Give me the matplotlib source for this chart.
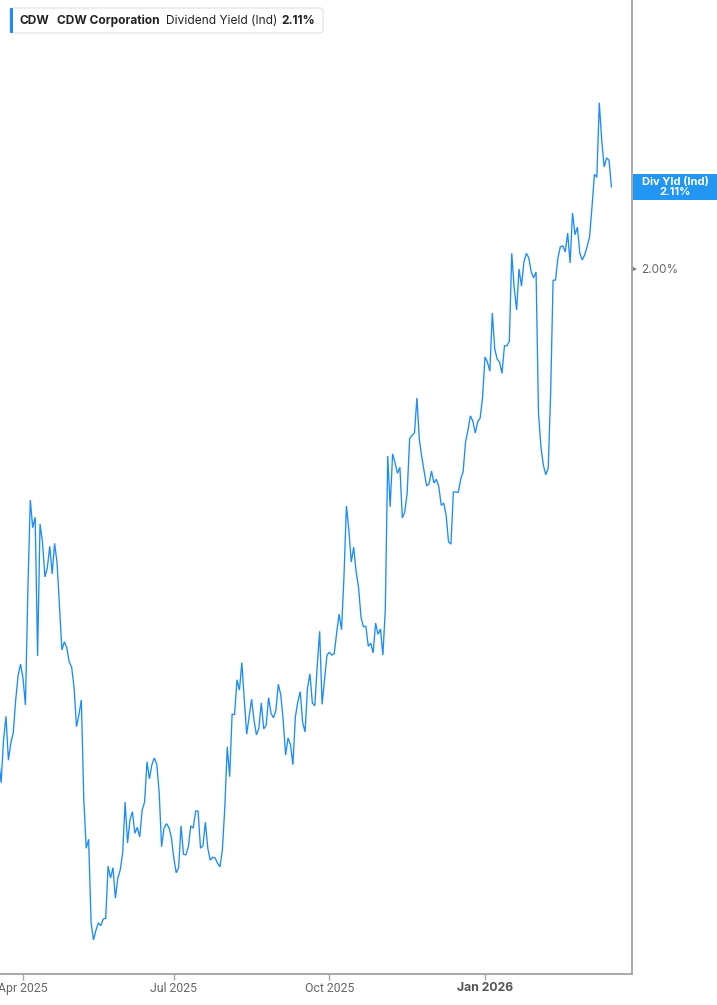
import numpy as np
import pandas as pd
import matplotlib
matplotlib.use("Agg")
import matplotlib.pyplot as plt
from matplotlib.patches import Rectangle, FancyBboxPatch
from matplotlib import font_manager as fm
import matplotlib.transforms as mtrans

# ---------------- data ----------------
holidays = ["2025-04-18", "2025-05-26", "2025-06-19", "2025-07-04", "2025-09-01",
            "2025-11-27", "2025-12-25", "2026-01-01", "2026-01-19", "2026-02-16"]
dates = pd.bdate_range("2025-03-18", "2026-03-19", freq="C", holidays=holidays)

div_yield = [
    1.341, 1.311, 1.368, 1.400, 1.341, 1.364, 1.378, 1.422, 1.455, 1.470,
    1.451, 1.415, 1.569, 1.690, 1.653, 1.667, 1.481, 1.658, 1.634, 1.587,
    1.599, 1.628, 1.591, 1.632, 1.606, 1.547, 1.489, 1.500, 1.492, 1.473,
    1.466, 1.439, 1.386, 1.402, 1.422, 1.288, 1.223, 1.235, 1.123, 1.100,
    1.113, 1.123, 1.119, 1.128, 1.129, 1.199, 1.183, 1.197, 1.156, 1.183,
    1.194, 1.217, 1.285, 1.230, 1.261, 1.272, 1.243, 1.251, 1.238, 1.274,
    1.285, 1.339, 1.316, 1.335, 1.344, 1.336, 1.298, 1.225, 1.250, 1.256,
    1.251, 1.238, 1.210, 1.190, 1.197, 1.253, 1.215, 1.214, 1.225, 1.253,
    1.250, 1.273, 1.273, 1.223, 1.226, 1.258, 1.223, 1.207, 1.211, 1.210,
    1.203, 1.198, 1.221, 1.278, 1.359, 1.319, 1.403, 1.402, 1.449, 1.435,
    1.472, 1.422, 1.376, 1.399, 1.423, 1.395, 1.375, 1.384, 1.418, 1.383,
    1.388, 1.425, 1.404, 1.398, 1.408, 1.443, 1.429, 1.395, 1.348, 1.371,
    1.362, 1.335, 1.399, 1.419, 1.433, 1.392, 1.379, 1.438, 1.457, 1.418,
    1.414, 1.467, 1.514, 1.416, 1.449, 1.482, 1.486, 1.482, 1.484, 1.512,
    1.537, 1.516, 1.587, 1.682, 1.650, 1.607, 1.627, 1.594, 1.573, 1.533,
    1.520, 1.521, 1.494, 1.498, 1.485, 1.525, 1.510, 1.517, 1.482, 1.543,
    1.749, 1.681, 1.752, 1.740, 1.726, 1.734, 1.666, 1.674, 1.700, 1.772,
    1.777, 1.780, 1.827, 1.771, 1.748, 1.728, 1.709, 1.712, 1.729, 1.713,
    1.718, 1.708, 1.683, 1.686, 1.670, 1.634, 1.631, 1.701, 1.701, 1.700,
    1.718, 1.728, 1.768, 1.784, 1.803, 1.796, 1.780, 1.795, 1.800, 1.828,
    1.882, 1.875, 1.863, 1.941, 1.893, 1.879, 1.875, 1.860, 1.897, 1.897,
    1.903, 2.021, 1.975, 1.945, 2.000, 1.977, 2.009, 2.021, 2.015, 1.996,
    1.988, 1.996, 1.807, 1.761, 1.737, 1.724, 1.733, 1.834, 1.985, 1.985,
    2.015, 2.030, 2.031, 2.023, 2.048, 2.008, 2.075, 2.046, 2.056, 2.021,
    2.012, 2.019, 2.030, 2.043, 2.083, 2.127, 2.123, 2.223, 2.173, 2.137,
    2.149, 2.146, 2.110,
]

tick_months = [(2025, 4), (2025, 7), (2025, 10), (2026, 1)]
tick_labels = ["Apr 2025", "Jul 2025", "Oct 2025", "Jan 2026"]
ytick_values = [2.00]
ytick_labels = ["2.00%"]
last_label = "Div Yld (Ind)\n2.11%"
legend_parts = [("CDW", "bold"), ("CDW Corporation", "bold"),
                ("Dividend Yield (Ind)", "normal"), ("2.11%", "bold")]

# ---------------- fonts ----------------
def has_font(name):
    try:
        fm.findfont(fm.FontProperties(family=name), fallback_to_default=False)
        return True
    except Exception:
        return False

UI = "Inter" if has_font("Inter") else "DejaVu Sans"
AX = "Liberation Sans Narrow" if has_font("Liberation Sans Narrow") else ("Roboto" if has_font("Roboto") else UI)

BLUE = "#1a8cff"
GREY = "#a8a8a8"

n = min(len(dates), len(div_yield))
x = np.arange(n)
y = np.array(div_yield[:n])

W, H = 717, 1005
fig = plt.figure(figsize=(W / 100, H / 100), dpi=100)
ax = fig.add_axes([0, 31 / H, 631.7 / W, 1 - 31 / H])

ax.plot(x, y, color=BLUE, lw=0.95, solid_joinstyle="miter")

# tick positions: first trading day of the month
tick_pos = []
for (yy, mm) in tick_months:
    idx = np.where((dates.year == yy) & (dates.month == mm))[0][0]
    tick_pos.append(idx)

apr = tick_pos[0]
step = (tick_pos[3] - tick_pos[0])
px_per_day = (485 - 23) / step
ax.set_xlim(apr - 23 / px_per_day, apr + (631.7 - 23) / px_per_day)
ax.set_ylim(1.0543, 2.3608)

for s in ["top", "left"]:
    ax.spines[s].set_visible(False)
for s in ["bottom", "right"]:
    ax.spines[s].set_color(GREY)
    ax.spines[s].set_linewidth(1.4)

ax.set_xticks(tick_pos)
ax.set_xticklabels(tick_labels)
ax.tick_params(axis="x", length=4, width=1, color=GREY, pad=2, labelsize=8.8, labelcolor="#666666")
for lbl in ax.get_xticklabels():
    lbl.set_fontfamily(AX)
for lbl, txt in zip(ax.get_xticklabels(), tick_labels):
    if txt.startswith("Jan"):
        lbl.set_fontweight("bold")
        lbl.set_color("#555555")
        lbl.set_fontfamily(UI)

ax.yaxis.tick_right()
ax.set_yticks(ytick_values)
ax.set_yticklabels(ytick_labels)
ax.tick_params(axis="y", length=0, pad=7, labelsize=8.5, labelcolor="#666666")
for lbl in ax.get_yticklabels():
    lbl.set_fontfamily(UI)
# small triangle marker for the y tick
trans = mtrans.blended_transform_factory(ax.transAxes, ax.transData)
for v in ytick_values:
    ax.plot([1.004], [v], marker=">", ms=4.5, color="#777777", transform=trans,
            clip_on=False, markeredgewidth=0)

# last value label box
fig.canvas.draw()
last_y_disp = ax.transData.transform((0, y[-1]))[1]
box_h = 26
rect = Rectangle((632.5, last_y_disp - box_h / 2), W - 632.5, box_h,
                 transform=None, facecolor="#2196f3", edgecolor="none", zorder=5)
fig.patches.append(rect)
fig.text(675.5 / W, last_y_disp / H, last_label, ha="center", va="center",
         color="white", fontsize=8, fontweight="bold", family=UI,
         linespacing=1.05, zorder=6)

# legend box at top-left
lb = FancyBboxPatch((10, H - 33), 313, 25, boxstyle="round,pad=0,rounding_size=3",
                    transform=None, facecolor="white", edgecolor="#e2e2e2", lw=0.8, zorder=5)
fig.patches.append(lb)
bar = Rectangle((10, H - 33), 3, 25, transform=None, facecolor=BLUE,
                edgecolor="none", zorder=6)
fig.patches.append(bar)
xs = [20, 57, 166, 281]
for (txt, wt), xp in zip(legend_parts, xs):
    fig.text(xp / W, 1 - 21 / H, txt, ha="left", va="center", fontsize=8.6,
             fontweight=wt, color="#222222", family=UI, zorder=7)

fig.savefig("out.png", dpi=100)
